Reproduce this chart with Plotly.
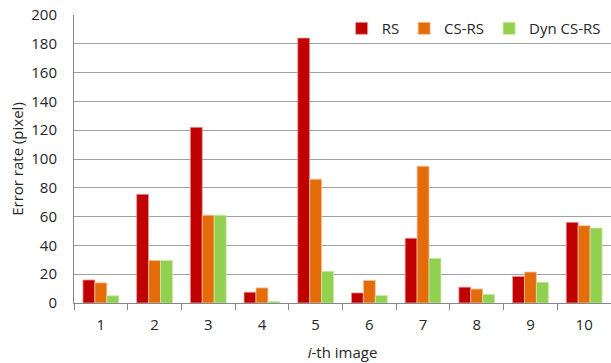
import plotly.graph_objects as go

categories = ["1", "2", "3", "4", "5", "6", "7", "8", "9", "10"]
rs = [16, 75.5, 122, 7.5, 184, 7, 45, 11, 18.5, 56]
cs_rs = [14, 29.5, 61, 10.5, 86, 15.7, 95, 9.7, 21.5, 53.7]
dyn_cs_rs = [5, 29.5, 61, 1, 22, 5.2, 31, 6, 14.4, 52]
y_ticks = [0, 20, 40, 60, 80, 100, 120, 140, 160, 180, 200]

series = [
    ("RS", rs, "#C00000", "#E8A0A0"),
    ("CS-RS", cs_rs, "#E46C0A", "#F5C49A"),
    ("Dyn CS-RS", dyn_cs_rs, "#92D050", "#C8E8A8"),
]

fig = go.Figure()
for name, vals, col, edge in series:
    fig.add_trace(go.Bar(
        x=categories, y=vals, name=name,
        marker=dict(color=col, line=dict(color=edge, width=0.8)),
    ))

font_family = "Open Sans, Liberation Sans, sans-serif"
fig.update_layout(
    width=611, height=363,
    margin=dict(l=74, r=0, t=15, b=60, pad=0, autoexpand=False),
    paper_bgcolor="white", plot_bgcolor="white",
    barmode="group", bargap=0.333, bargroupgap=0,
    font=dict(family=font_family, size=15, color="#262626"),
    showlegend=True,
    legend=dict(
        orientation="h", x=0.99, xanchor="right", y=1.01, yanchor="top",
        font=dict(size=15, color="#262626"), bgcolor="rgba(0,0,0,0)",
        itemwidth=30, traceorder="normal", tracegroupgap=0,
    ),
    xaxis=dict(
        type="category", showgrid=False, showline=True, linecolor="#878787",
        ticks="outside", tickson="boundaries", ticklen=6, tickcolor="#878787",
        tickfont=dict(size=15), ticklabelstandoff=8, automargin=False,
        title=dict(text="<i>i</i>-th image", font=dict(size=15), standoff=14),
    ),
    yaxis=dict(
        range=[0, 200], tickvals=y_ticks, showgrid=True, gridcolor="#A0A0A0",
        gridwidth=1, showline=True, linecolor="#878787", zeroline=False,
        ticks="", tickfont=dict(size=15), ticklabelstandoff=13,
        automargin=False,
        title=dict(text="Error rate (pixel)", font=dict(size=15), standoff=4),
    ),
)

fig.write_html(
    "out.html",
    config={"displayModeBar": False},
    post_script="document.body.style.margin='0';document.body.style.overflow='hidden';",
)
